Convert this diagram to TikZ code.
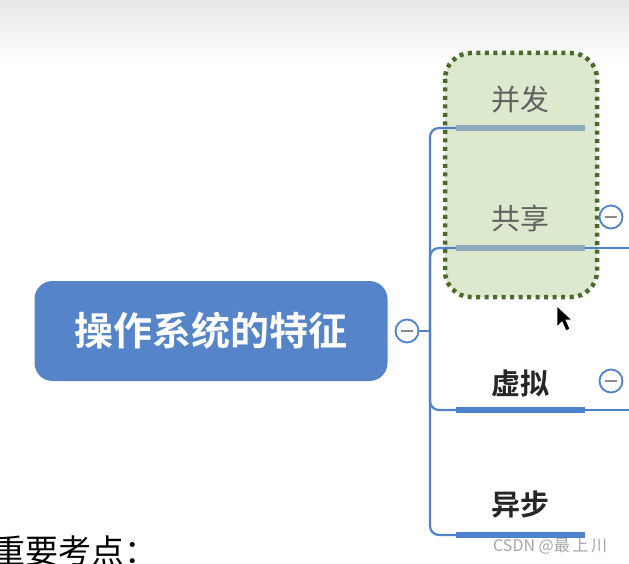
\documentclass[tikz,border=0pt]{standalone}
\usepackage{fontspec}
\newfontfamily\cjk{Noto Sans CJK SC}
\newfontfamily\cjkbold{Noto Sans CJK SC Bold}
\usetikzlibrary{shapes.geometric}

\definecolor{rootblue}{HTML}{5585C8}
\definecolor{linkblue}{HTML}{4E82CC}
\definecolor{fadebar}{HTML}{8DAABD}
\definecolor{selgreen}{HTML}{DDE9CF}
\definecolor{seledge}{HTML}{4A6A2A}

\begin{document}
\begin{tikzpicture}[x=1pt, y=-1pt,
    root/.style = {draw=none, fill=rootblue, rounded corners=18pt, minimum width=353pt, minimum height=100pt, text=white, font=\cjkbold\fontsize{39}{42}\selectfont},
    topic/.style = {font=\cjk\fontsize{29}{32}\selectfont, text=black!85},
    faded/.style = {topic, text=black!62},
    bar/.style = {fill=linkblue, minimum width=129pt, minimum height=6pt, inner sep=0pt},
    fadedbar/.style = {bar, fill=fadebar},
    toggle/.style = {draw=linkblue, line width=1.8pt, fill=white, circle, minimum size=23pt, inner sep=0pt},
    link/.style = {draw=linkblue, line width=2.2pt, rounded corners=9pt}]
	% background
	\useasboundingbox (0,0) rectangle (629,564);
	\fill[white] (0,0) rectangle (629,564);
	\fill[top color=black!9, bottom color=white] (0,0) rectangle (629,66);

	% root
	\node[root] (main) at (211,331) {操作系统的特征};
	\node[toggle] (mainT) at (407,331) {};
	\draw[black!45, line width=1.6pt] (401,331) -- (413,331);
	\coordinate (trunk) at (430,331);

	% selection box
	\draw[seledge, fill=selgreen, line width=4.5pt, dash pattern=on 4pt off 4.5pt, rounded corners=26pt] (445,53) rectangle (597,297);

	% branches
	\node[fadedbar] (bfBar) at (520.5,128) {};
	\node[fadedbar] (gxBar) at (520.5,248) {};
	\node[bar] (xnBar) at (520.5,410) {};
	\node[bar] (ybBar) at (520.5,535) {};
	\node[faded] (bf) at (520,100) {并发};
	\node[faded] (gx) at (520,218) {共享};
	\node[topic] (xn) at (520,383) {\cjkbold 虚拟};
	\node[topic] (yb) at (520,505) {\cjkbold 异步};

	\draw[link] (mainT) -- (trunk);
	\draw[link] (trunk) |- (bfBar.west);
	\draw[link] (trunk) |- (gxBar.west);
	\draw[link] (trunk) |- (xnBar.west);
	\draw[link] (trunk) |- (ybBar.west);

	% collapsed toggles on the right
	\node[toggle] (gxT) at (611,217) {};
	\draw[black!45, line width=1.6pt] (605,217) -- (617,217);
	\node[toggle] (xnT) at (611,381) {};
	\draw[black!45, line width=1.6pt] (605,381) -- (617,381);
	\draw[link] (gxBar.east) -- (629,248);
	\draw[link] (xnBar.east) -- (629,410);

	% mouse cursor
	\filldraw[fill=black, draw=white, line width=0.8pt] (557,306) -- (557,327) -- (562,322) -- (566,331) -- (570,329) -- (566,320) -- (572,320) -- cycle;

	% page text
	\begin{scope}
	\clip (0,0) rectangle (629,564);
	\node[anchor=west, inner sep=0pt, font=\cjk\fontsize{33}{36}\selectfont] (note) at (-8,551) {重要考点：};
	\end{scope}
	\node[anchor=west, inner sep=0pt, text=black!35, font=\cjk\fontsize{16}{18}\selectfont] (mark) at (493,546) {CSDN @最\,上\,川};
\end{tikzpicture}
\end{document}
